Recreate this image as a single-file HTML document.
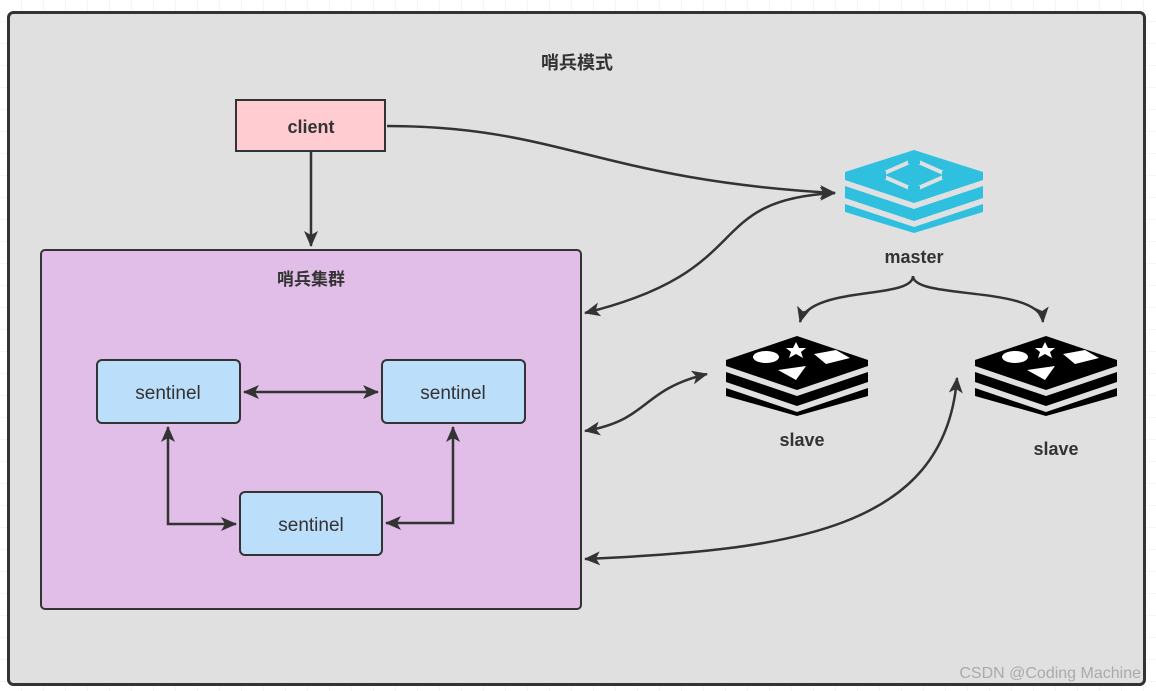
<!DOCTYPE html>
<html><head><meta charset="utf-8"><style>
html,body{margin:0;padding:0;background:#fff}
svg{display:block}
text{font-family:"Liberation Sans","Noto Sans CJK SC",sans-serif}
</style></head><body>
<svg width="1156" height="691" viewBox="0 0 1156 691" xmlns="http://www.w3.org/2000/svg">
<defs>
<pattern id="g" width="22" height="22" patternUnits="userSpaceOnUse"><path d="M22 0V22H0" fill="none" stroke="#ebebeb" stroke-width="1"/></pattern>
<marker id="b" markerWidth="16" markerHeight="14" refX="15" refY="7" orient="auto-start-reverse" markerUnits="userSpaceOnUse" viewBox="0 0 16 14"><path d="M0 0L16 7L0 14L4 7Z" fill="#333"/></marker>
<g id="slave">
<path d="M71 0L142 24V30L71 54L0 30V24Z" fill="#000"/>
<path d="M0 36L71 60L142 36V46L71 70L0 46Z" fill="#000"/>
<path d="M0 52L71 76L142 52V60L71 80L0 60Z" fill="#000"/>
<ellipse cx="40" cy="21" rx="13" ry="6" fill="#fff"/>
<path d="M70 6L73 12L80 12L75 16L77 22L70 18L63 22L65 16L60 12L67 12Z" fill="#fff"/>
<path d="M88 18L110 14L124 22L100 28Z" fill="#fff"/>
<path d="M52 34L80 30L70 44Z" fill="#fff"/>
</g>
</defs>
<rect width="1156" height="691" fill="#fff"/>
<rect width="1156" height="691" fill="url(#g)"/>
<rect x="8.5" y="12.5" width="1136" height="672" rx="5" fill="#e0e0e0" stroke="#333" stroke-width="3"/>
<text x="577" y="69" font-size="18" font-weight="bold" fill="#333" text-anchor="middle">哨兵模式</text>
<rect x="236" y="100" width="149" height="51" fill="#ffccd1" stroke="#333" stroke-width="2"/>
<text x="311" y="133" font-size="18" font-weight="bold" fill="#333" text-anchor="middle">client</text>
<rect x="41" y="250" width="540" height="359" rx="4" fill="#e1bee7" stroke="#333" stroke-width="2"/>
<text x="311" y="285" font-size="17" font-weight="bold" fill="#333" text-anchor="middle">哨兵集群</text>
<rect x="97" y="360" width="143" height="63" rx="5" fill="#bbdefb" stroke="#333" stroke-width="2"/>
<text x="168" y="399" font-size="19" fill="#333" text-anchor="middle">sentinel</text>
<rect x="382" y="360" width="143" height="63" rx="5" fill="#bbdefb" stroke="#333" stroke-width="2"/>
<text x="453" y="399" font-size="19" fill="#333" text-anchor="middle">sentinel</text>
<rect x="240" y="492" width="142" height="63" rx="5" fill="#bbdefb" stroke="#333" stroke-width="2"/>
<text x="311" y="531" font-size="19" fill="#333" text-anchor="middle">sentinel</text>
<g fill="none" stroke="#333" stroke-width="2.5">
<path d="M311 152V246" marker-end="url(#b)"/>
<path d="M244 392H378" marker-start="url(#b)" marker-end="url(#b)"/>
<path d="M168 427V524H236" marker-start="url(#b)" marker-end="url(#b)"/>
<path d="M453 427V523H386" marker-start="url(#b)" marker-end="url(#b)"/>
<path d="M387 126C560 126 600 180 835 193" marker-end="url(#b)"/>
<path d="M585 313C760 270 700 200 835 193" marker-start="url(#b)" marker-end="url(#b)"/>
<path d="M913 276C913 300 810 285 800 322" marker-end="url(#b)"/>
<path d="M913 276C913 300 1040 285 1043 322" marker-end="url(#b)"/>
<path d="M585 431C650 420 640 390 707 374" marker-start="url(#b)" marker-end="url(#b)"/>
<path d="M585 559C790 550 945 530 957 378" marker-start="url(#b)" marker-end="url(#b)"/>
</g>
<g fill="#2fc0e0">
<path d="M914 150L983 172V180L914 203L845 180V172Z"/>
<path d="M845 186L914 209L983 186V198L914 221L845 198Z"/>
<path d="M845 204L914 227L983 204V212L914 233L845 212Z"/>
</g>
<path d="M914 160L948 175L914 190L880 175Z" fill="none" stroke="#e0e0e0" stroke-width="4"/>
<g fill="#2fc0e0">
<rect x="908" y="156" width="12" height="8"/>
<rect x="908" y="186" width="12" height="8"/>
<rect x="874" y="171" width="12" height="8"/>
<rect x="942" y="171" width="12" height="8"/>
</g>
<text x="914" y="263" font-size="18" font-weight="bold" fill="#333" text-anchor="middle">master</text>
<use href="#slave" x="726" y="336"/>
<use href="#slave" x="975" y="336"/>
<text x="802" y="446" font-size="18" font-weight="bold" fill="#333" text-anchor="middle">slave</text>
<text x="1056" y="455" font-size="18" font-weight="bold" fill="#333" text-anchor="middle">slave</text>
<text x="1141" y="678" font-size="16" fill="#aaa" text-anchor="end">CSDN @Coding Machine</text>
</svg>
</body></html>
